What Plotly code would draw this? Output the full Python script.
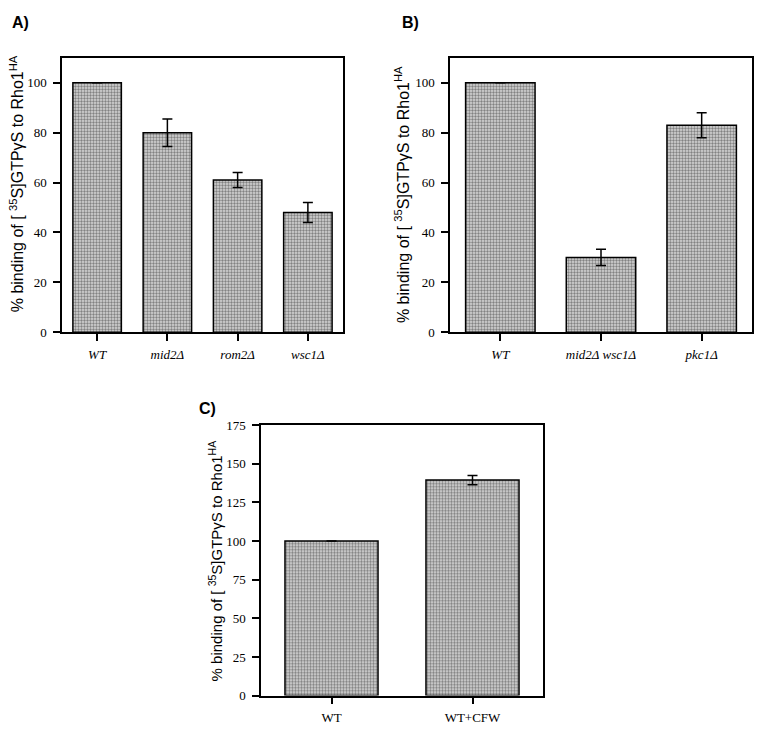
import plotly.graph_objects as go

# Panel A
a_cats = ["WT", "mid2Δ", "rom2Δ", "wsc1Δ"]
a_vals = [100, 80, 61, 48]
a_err = [None, 5.5, 3, 4]
# Panel B
b_cats = ["WT", "mid2Δ wsc1Δ", "pkc1Δ"]
b_vals = [100, 30, 83]
b_err = [None, 3.3, 5]
# Panel C
c_cats = ["WT", "WT+CFW"]
c_vals = [100, 139.5]
c_err = [None, 3]

a_ticks = [0, 20, 40, 60, 80, 100]
c_ticks = [0, 25, 50, 75, 100, 125, 150, 175]

W, H = 760, 732
SERIF = "Liberation Serif"
SANS = "Liberation Sans"

def px(x):
    return x / W

def py(y):
    return 1 - y / H

fig = go.Figure()

bar_style = dict(
    marker=dict(
        color="#d0d0d0",
        line=dict(color="black", width=1.5),
        pattern=dict(shape=".", fgcolor="#262626", bgcolor="#dadada", size=3, solidity=0.5),
    ),
    showlegend=False,
)

def add_panel(cats, vals, errs, xa, ya, width):
    fig.add_trace(go.Bar(
        x=cats, y=vals, width=width,
        error_y=dict(type="data", array=errs, visible=True, color="black", thickness=1.5, width=5),
        xaxis=xa, yaxis=ya, **bar_style))

add_panel(a_cats, a_vals, a_err, "x", "y", 0.69)
add_panel(b_cats, b_vals, b_err, "x2", "y2", 0.69)
add_panel(c_cats, c_vals, c_err, "x3", "y3", 0.66)

axis_common = dict(
    showline=True, linecolor="black", linewidth=1.5, mirror=True,
    ticks="outside", ticklen=7, tickwidth=1.5, tickcolor="black",
    showgrid=False, zeroline=False,
    tickfont=dict(family=SERIF, size=13, color="black"),
)

def xaxis(domain, cats, italic, anchor):
    return dict(
        domain=domain, anchor=anchor, range=[-0.5, len(cats) - 0.5],
        tickmode="array", tickvals=cats,
        ticktext=[f"<i>{c}</i>" if italic else c for c in cats],
        ticklabelstandoff=2,
        **axis_common)

def yaxis(domain, rng, ticks, anchor):
    return dict(
        domain=domain, anchor=anchor, range=rng,
        tickmode="array", tickvals=ticks, ticklabelstandoff=4,
        **axis_common)

fig.update_layout(
    width=W, height=H,
    margin=dict(l=0, r=0, t=0, b=0),
    paper_bgcolor="white", plot_bgcolor="white",
    xaxis=xaxis([px(62), px(343)], a_cats, True, "y"),
    yaxis=yaxis([py(332), py(52)], [0, 110], a_ticks, "x"),
    xaxis2=xaxis([px(450), px(752)], b_cats, True, "y2"),
    yaxis2=yaxis([py(332), py(52)], [0, 110], a_ticks, "x2"),
    xaxis3=xaxis([px(261), px(543)], c_cats, False, "y3"),
    yaxis3=yaxis([py(703), py(427)], [0, 175], c_ticks, "x3"),
)

ytitle = "% binding of [ <sup>35</sup>S]GTPγS to Rho1<sup>HA</sup>"
for (x, y, size) in [(17, 181, 16), (402, 192, 16), (215, 566, 15)]:
    fig.add_annotation(text=ytitle, x=px(x), y=py(y), xref="paper", yref="paper",
                       textangle=-90, showarrow=False, xanchor="center", yanchor="middle",
                       font=dict(family=SANS, size=size, color="black"))

for (lbl, x, y) in [("A)", 10, 16), ("B)", 400, 16), ("C)", 197, 410)]:
    fig.add_annotation(text=f"<b>{lbl}</b>", x=px(x), y=py(y), xref="paper", yref="paper",
                       showarrow=False, xanchor="left", yanchor="middle",
                       font=dict(family=SANS, size=16, color="black"))

fig.write_html("out.html",
               config={"displayModeBar": False},
               post_script="document.body.style.margin='0';document.body.style.overflow='hidden';")
